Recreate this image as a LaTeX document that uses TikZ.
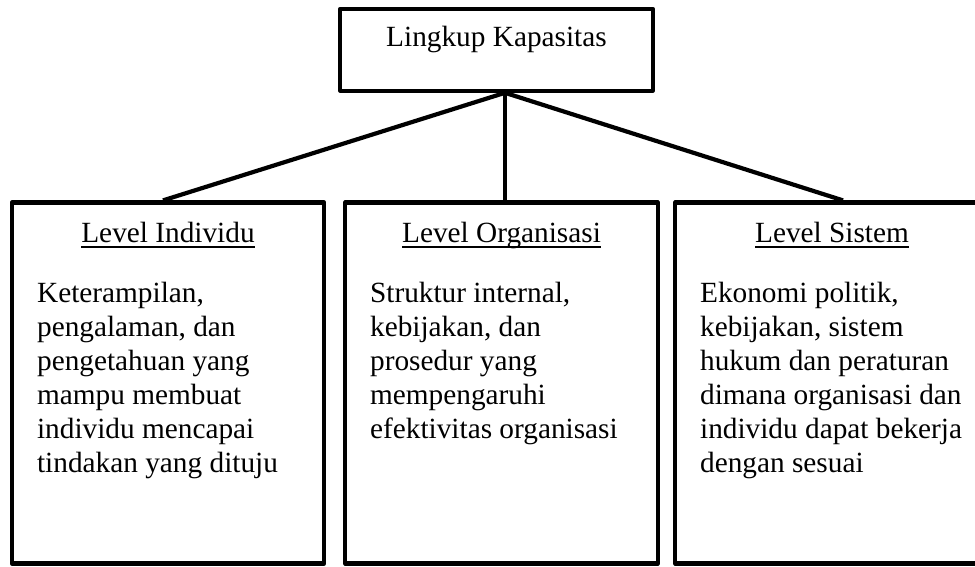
\documentclass[tikz,border=0pt]{standalone}
\usepackage{fontspec}
\setmainfont{Liberation Serif}
\newcommand\hdul[1]{{\setbox0\hbox{#1}\rlap{\rule[-5.5pt]{\wd0}{1.8pt}}\box0}}
\begin{document}
\begin{tikzpicture}[x=1pt,y=-1pt,line width=4.2pt,line join=round,
  box/.style={draw,rectangle,inner sep=0pt,minimum width=312.5pt},
  lvlbox/.style={box,minimum height=361pt},
  txt/.style={inner sep=0pt,font=\fontsize{29.3}{34}\selectfont},
  head/.style={txt,anchor=base},
  body/.style={txt,anchor=base west,align=left}]
\useasboundingbox (0,0) rectangle (975,567);
\clip (0,0) rectangle (975,567);
% boxes
\node[box,minimum height=82pt] (top) at (496.5,49.7) {};
\node[lvlbox] (lb) at (168,383) {};
\node[lvlbox] (mb) at (501.5,383) {};
\node[lvlbox] (rb) at (831.5,383) {};
% texts
\node[head] (ttop) at (496.5,47) {Lingkup Kapasitas};
\node[head] (hl) at (168,242) {\hdul{Level Individu}};
\node[head] (hm) at (501.5,242) {\hdul{Level Organisasi}};
\node[head] (hr) at (832,242) {\hdul{Level Sistem}};
\node[body] (bl) at (35,302) {\begin{tabular}[t]{@{}l@{}}Keterampilan,\\ pengalaman, dan\\ pengetahuan yang\\ mampu membuat\\ individu mencapai\\ tindakan yang dituju\end{tabular}};
\node[body] (bm) at (368,302) {\begin{tabular}[t]{@{}l@{}}Struktur internal,\\ kebijakan, dan\\ prosedur yang\\ mempengaruhi\\ efektivitas organisasi\end{tabular}};
\node[body] (br) at (698,302) {\begin{tabular}[t]{@{}l@{}}Ekonomi politik,\\ kebijakan, sistem\\ hukum dan peraturan\\ dimana organisasi dan\\ individu dapat bekerja\\ dengan sesuai\end{tabular}};
% connectors
\coordinate (j) at ([xshift=8.5pt]top.south);
\draw (j) -- ([xshift=-5pt]lb.north);
\draw (j) -- ([xshift=3.5pt]mb.north);
\draw (j) -- ([xshift=11.5pt]rb.north);
\end{tikzpicture}
\end{document}
